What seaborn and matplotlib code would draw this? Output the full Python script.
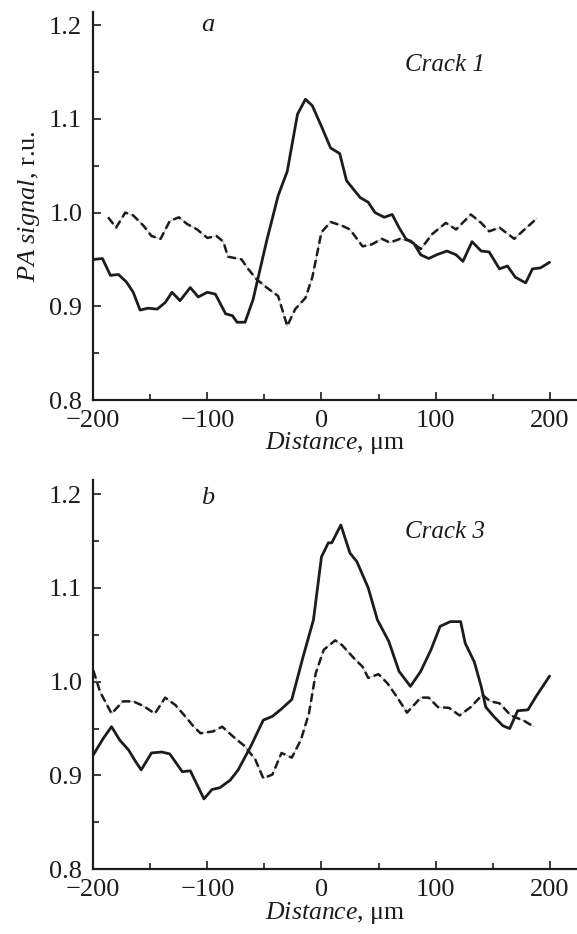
import matplotlib
matplotlib.use("Agg")
import matplotlib.pyplot as plt
import seaborn as sns
from matplotlib.ticker import MultipleLocator

# Panel a (Crack 1): solid and dash-dot profiles
a_solid_x = [-200, -192, -185, -178, -171, -165, -159, -152, -144, -137,
             -131, -124, -115, -108, -100, -93, -84, -78, -74, -67,
             -60, -48, -38, -30, -21, -14, -8, 0, 8, 16,
             22, 34, 41, 47, 55, 62, 68, 74, 81, 87,
             94, 101, 110, 118, 124, 132, 140, 147, 156, 163,
             170, 179, 185, 192, 200]
a_solid_y = [0.950, 0.951, 0.933, 0.934, 0.926, 0.915, 0.896, 0.898, 0.897, 0.904,
             0.915, 0.906, 0.920, 0.910, 0.915, 0.913, 0.892, 0.890, 0.883, 0.883,
             0.907, 0.970, 1.018, 1.044, 1.105, 1.121, 1.114, 1.092, 1.069, 1.063,
             1.034, 1.016, 1.011, 1.000, 0.995, 0.998, 0.984, 0.972, 0.967, 0.955,
             0.951, 0.955, 0.959, 0.955, 0.948, 0.969, 0.959, 0.958, 0.940, 0.943,
             0.931, 0.925, 0.940, 0.941, 0.947]
a_dash_x = [-187, -180, -172, -165, -156, -149, -141, -133, -125, -118,
            -109, -100, -92, -86, -82, -70, -65, -57, -48, -38,
            -30, -23, -14, -8, 0, 8, 18, 25, 36, 44,
            53, 60, 69, 78, 87, 97, 109, 118, 131, 140,
            147, 156, 169, 178, 189]
a_dash_y = [0.995, 0.984, 1.000, 0.997, 0.986, 0.975, 0.972, 0.991, 0.995, 0.988,
            0.982, 0.973, 0.975, 0.969, 0.953, 0.950, 0.941, 0.929, 0.920, 0.911,
            0.879, 0.897, 0.909, 0.931, 0.979, 0.990, 0.986, 0.982, 0.964, 0.966,
            0.972, 0.968, 0.972, 0.970, 0.961, 0.977, 0.989, 0.982, 0.998, 0.989,
            0.980, 0.984, 0.972, 0.982, 0.994]

# Panel b (Crack 3)
b_solid_x = [-200, -191, -184, -177, -169, -163, -158, -149, -140, -133,
             -122, -115, -109, -103, -96, -89, -80, -73, -62, -51,
             -43, -35, -26, -16, -7, 0, 6, 9, 17, 25,
             31, 41, 49, 59, 68, 78, 87, 96, 104, 113,
             122, 126, 134, 140, 144, 151, 159, 165, 172, 181,
             188, 200]
b_solid_y = [0.922, 0.940, 0.952, 0.938, 0.927, 0.915, 0.906, 0.924, 0.925, 0.923,
             0.904, 0.905, 0.890, 0.875, 0.885, 0.887, 0.895, 0.906, 0.931, 0.959,
             0.963, 0.971, 0.981, 1.027, 1.066, 1.133, 1.148, 1.148, 1.167, 1.137,
             1.128, 1.100, 1.066, 1.043, 1.011, 0.995, 1.011, 1.034, 1.059, 1.064,
             1.064, 1.041, 1.021, 0.995, 0.973, 0.963, 0.953, 0.950, 0.969, 0.970,
             0.984, 1.006]
b_dash_x = [-200, -194, -184, -174, -165, -156, -146, -137, -128, -118,
            -112, -106, -95, -87, -77, -67, -58, -51, -43, -35,
            -26, -18, -11, -5, 2, 12, 18, 30, 36, 41,
            50, 58, 66, 75, 81, 87, 94, 102, 112, 121,
            131, 141, 148, 156, 166, 178, 186]
b_dash_y = [1.012, 0.989, 0.966, 0.979, 0.979, 0.974, 0.966, 0.983, 0.975, 0.961,
            0.952, 0.945, 0.947, 0.952, 0.941, 0.931, 0.917, 0.897, 0.901, 0.924,
            0.919, 0.938, 0.966, 1.009, 1.034, 1.044, 1.039, 1.023, 1.016, 1.004,
            1.008, 0.998, 0.984, 0.967, 0.975, 0.983, 0.983, 0.973, 0.972, 0.964,
            0.973, 0.986, 0.979, 0.977, 0.964, 0.958, 0.952]

sns.set_theme(style="ticks")
plt.rcParams['font.family'] = ['Liberation Serif', 'DejaVu Serif']
plt.rcParams['mathtext.fontset'] = 'custom'
plt.rcParams['mathtext.rm'] = 'Liberation Serif'
plt.rcParams['mathtext.it'] = 'Liberation Serif:italic'

ink = '#1c1c1c'
fig = plt.figure(figsize=(5.77, 9.34), dpi=100)
ax_a = fig.add_axes([0.1617, 0.5717, 0.8383, 0.4154])
ax_b = fig.add_axes([0.1617, 0.0693, 0.8383, 0.4168])


def style_axis(ax, ytop):
    ax.set_xlim(-200, 224)
    ax.set_ylim(0.8, ytop)
    ax.xaxis.set_major_locator(MultipleLocator(100))
    ax.xaxis.set_minor_locator(MultipleLocator(50))
    ax.yaxis.set_major_locator(MultipleLocator(0.1))
    ax.yaxis.set_minor_locator(MultipleLocator(0.05))
    ax.yaxis.set_major_formatter(matplotlib.ticker.FormatStrFormatter('%.1f'))
    ax.tick_params(which='both', direction='in', color=ink, width=1.2,
                   labelsize=19, labelcolor=ink)
    ax.tick_params(which='major', length=6)
    ax.tick_params(which='minor', length=4.5)
    ax.tick_params(axis='y', pad=8)
    ax.tick_params(axis='x', pad=7)
    for side in ['top', 'right']:
        ax.spines[side].set_visible(False)
    for side in ['left', 'bottom']:
        ax.spines[side].set_linewidth(1.6)
        ax.spines[side].set_color(ink)
    ax.set_xlabel(r"$\mathit{Distance}$, μm", fontsize=18.5, color=ink, labelpad=-1)


def draw(ax, sx, sy, dx, dy):
    # dash-dot curve: faint thin connector plus bold dashes
    sns.lineplot(x=dx, y=dy, ax=ax, color='#9a9a9a', lw=0.45, estimator=None, sort=False)
    sns.lineplot(x=dx, y=dy, ax=ax, color=ink, lw=1.8, estimator=None, sort=False,
                 linestyle=(0, (3.4, 1.6)))
    sns.lineplot(x=sx, y=sy, ax=ax, color=ink, lw=2.0, estimator=None, sort=False)


draw(ax_a, a_solid_x, a_solid_y, a_dash_x, a_dash_y)
draw(ax_b, b_solid_x, b_solid_y, b_dash_x, b_dash_y)
style_axis(ax_a, 1.214)
style_axis(ax_b, 1.215)

ax_a.set_ylabel(r"$\mathit{PA\ signal}$, r.u.", fontsize=19, color=ink, labelpad=5)
ax_b.set_ylabel("")

ax_a.text(-100, 1.2, "a", fontsize=19, style='italic', ha='center', va='center', color=ink)
ax_a.text(108, 1.158, "Crack 1", fontsize=18, style='italic', ha='center', va='center', color=ink)
ax_b.text(-100, 1.196, "b", fontsize=19, style='italic', ha='center', va='center', color=ink)
ax_b.text(108, 1.160, "Crack 3", fontsize=18, style='italic', ha='center', va='center', color=ink)

fig.savefig("out.png", dpi=100)
